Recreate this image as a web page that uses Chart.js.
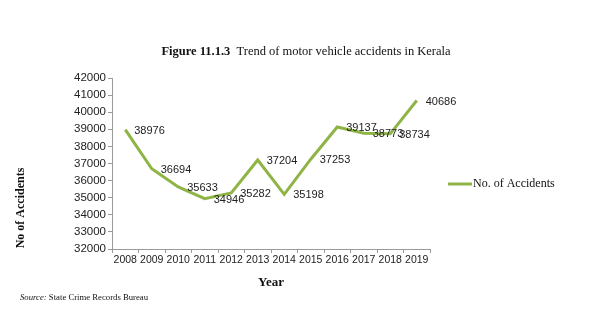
<!DOCTYPE html>
<html>
<head>
<meta charset="utf-8">
<script src="https://cdn.jsdelivr.net/npm/chart.js@4"></script>
<style>
  html, body { margin: 0; padding: 0; background: #fff; }
  #wrap { width: 605px; height: 321px; }
</style>
</head>
<body>
<div id="wrap"><canvas id="accidentsChart" width="605" height="321"></canvas></div>
<script>
// Motor vehicle accidents in Kerala, yearly totals
const years = ["2008", "2009", "2010", "2011", "2012", "2013", "2014", "2015", "2016", "2017", "2018", "2019"];
const accidents = [38976, 36694, 35633, 34946, 35282, 37204, 35198, 37253, 39137, 38773, 38734, 40686];
const yMin = 32000;
const yMax = 42000;
const yStep = 1000;

const LINE_GREEN = "#8fb446";
const SERIF = "'Liberation Serif', 'DejaVu Serif', serif";
const SANS = "'Liberation Sans', Arial, sans-serif";

// value labels next to each point, plus the static text around the plot
const decorations = {
  id: "decorations",
  afterDatasetsDraw(chart) {
    const ctx = chart.ctx;
    const meta = chart.getDatasetMeta(0);
    ctx.save();
    ctx.fillStyle = "#222";
    ctx.font = "11px " + SANS;
    ctx.textAlign = "left";
    ctx.textBaseline = "middle";
    meta.data.forEach((pt, i) => {
      ctx.fillText(String(accidents[i]), pt.x + 9, pt.y + 1);
    });
    ctx.restore();
  },
  afterDraw(chart) {
    const ctx = chart.ctx;
    ctx.save();
    ctx.fillStyle = "#111";
    ctx.textBaseline = "middle";

    // title
    ctx.font = "bold 12.5px " + SERIF;
    const part1 = "Figure 11.1.3  ";
    const part2 = "Trend of motor vehicle accidents in Kerala";
    const w1 = ctx.measureText(part1).width;
    ctx.font = "12.5px " + SERIF;
    const w2 = ctx.measureText(part2).width;
    let tx = 306 - (w1 + w2) / 2;
    ctx.textAlign = "left";
    ctx.font = "bold 12.5px " + SERIF;
    ctx.fillText(part1, tx, 52);
    ctx.font = "12.5px " + SERIF;
    ctx.fillText(part2, tx + w1, 52);

    // axis titles
    ctx.font = "bold 13px " + SERIF;
    ctx.textAlign = "center";
    ctx.fillText("Year", 271, 283);
    ctx.save();
    ctx.translate(21, 208);
    ctx.rotate(-Math.PI / 2);
    ctx.font = "bold 12px " + SERIF;
    ctx.fillText("No of Accidents", 0, 0);
    ctx.restore();

    // legend
    ctx.strokeStyle = LINE_GREEN;
    ctx.lineWidth = 3;
    ctx.beginPath();
    ctx.moveTo(448, 184);
    ctx.lineTo(472, 184);
    ctx.stroke();
    ctx.font = "12px " + SERIF;
    ctx.textAlign = "left";
    ctx.fillText("No. of Accidents", 473, 184);

    // source note
    ctx.font = "italic 8.7px " + SERIF;
    ctx.fillText("Source:", 20, 298);
    const sw = ctx.measureText("Source: ").width;
    ctx.font = "8.7px " + SERIF;
    ctx.fillText("State Crime Records Bureau", 20 + sw, 298);
    ctx.restore();
  }
};

new Chart(document.getElementById("accidentsChart"), {
  type: "line",
  data: {
    labels: years,
    datasets: [{
      label: "No. of Accidents",
      data: accidents,
      borderColor: LINE_GREEN,
      backgroundColor: LINE_GREEN,
      borderWidth: 3,
      pointRadius: 0,
      tension: 0,
    }],
  },
  options: {
    responsive: false,
    animation: false,
    layout: { padding: { top: 78, right: 175, left: 0, bottom: 0 } },
    plugins: {
      legend: { display: false },
      tooltip: { enabled: false },
    },
    scales: {
      x: {
        offset: true,
        afterFit: (scale) => { scale.height = 72; },
        grid: {
          offset: true,
          drawOnChartArea: false,
          drawTicks: true,
          tickLength: 4,
          color: "#9a9a9a",
        },
        border: { color: "#9a9a9a", width: 1 },
        ticks: {
          color: "#222",
          font: { family: SANS, size: 10.5 },
          maxRotation: 0,
          autoSkip: false,
          padding: 1,
        },
      },
      y: {
        min: yMin,
        max: yMax,
        afterFit: (scale) => { scale.width = 112; },
        grid: {
          drawOnChartArea: false,
          drawTicks: true,
          tickLength: 4,
          color: "#9a9a9a",
        },
        border: { color: "#9a9a9a", width: 1 },
        ticks: {
          stepSize: yStep,
          autoSkip: false,
          color: "#222",
          font: { family: SANS, size: 11.5 },
          padding: 2,
          callback: (v) => String(v),
        },
      },
    },
  },
  plugins: [decorations],
});
</script>
</body>
</html>
